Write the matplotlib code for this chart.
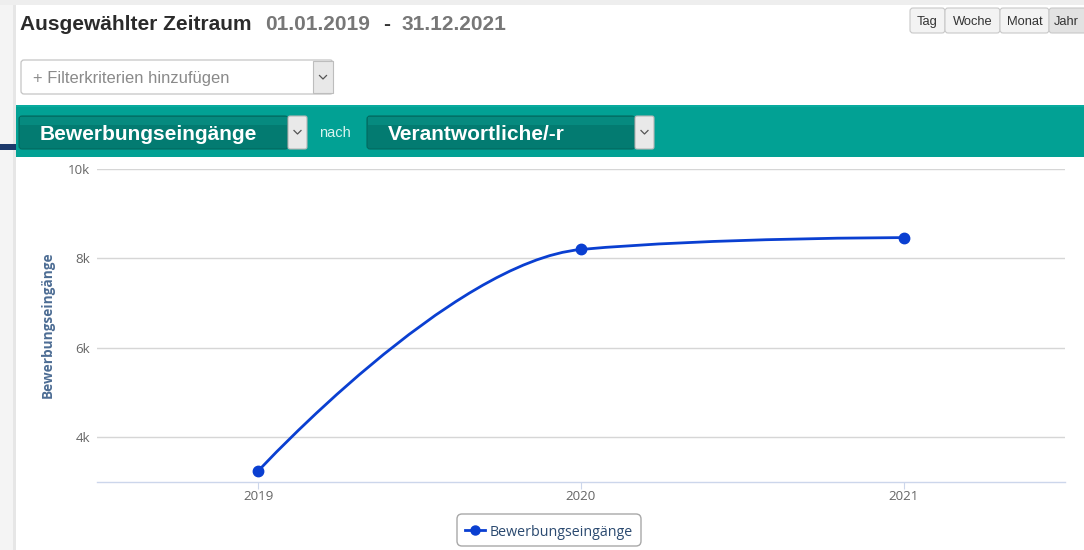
import matplotlib
matplotlib.use("Agg")
import matplotlib.pyplot as plt
from matplotlib.patches import Rectangle, FancyBboxPatch
from matplotlib.path import Path
from matplotlib.patches import PathPatch
from matplotlib.lines import Line2D

# data
years = [2019, 2020, 2021]
eingaenge = [3250, 8200, 8465]
y_ticks = [4000, 6000, 8000, 10000]
y_tick_labels = ["4k", "6k", "8k", "10k"]
series_name = "Bewerbungseingänge"
zeitraum_von = "01.01.2019"
zeitraum_bis = "31.12.2021"
range_buttons = ["Tag", "Woche", "Monat", "Jahr"]

W, H = 1084, 550
fig = plt.figure(figsize=(W / 100, H / 100), dpi=100)
fig.patch.set_facecolor("white")

# background axes in pixel coordinates for the UI parts
bg = fig.add_axes([0, 0, 1, 1])
bg.set_xlim(0, W)
bg.set_ylim(H, 0)
bg.axis("off")

UI = "Liberation Sans"
CH = "Open Sans"


def box(x, y, w, h, fc, ec="none", lw=0, r=0, z=1):
    if r:
        p = FancyBboxPatch((x, y), w, h, boxstyle="round,pad=0,rounding_size=%g" % r,
                           fc=fc, ec=ec, lw=lw, zorder=z)
    else:
        p = Rectangle((x, y), w, h, fc=fc, ec=ec, lw=lw, zorder=z)
    bg.add_patch(p)


def chevron(cx, cy, color="#555555"):
    bg.plot([cx - 3.5, cx, cx + 3.5], [cy - 1.5, cy + 2, cy - 1.5], color=color, lw=0.9, zorder=5)


# page frame
box(0, 0, 14, H, "#f4f4f4")
box(13, 0, 3, H, "#e6e6e6")
box(0, 0, W, 5, "#eeeeee")
box(0, 144, 16, 6, "#1c3a6b", z=2)

# header
hy = 22.5
bg.text(20, hy, "Ausgewählter Zeitraum", fontfamily=UI, fontweight="bold", fontsize=15,
        color="#2b2b2b", va="center_baseline", ha="left")
bg.text(265, hy, zeitraum_von, fontfamily=UI, fontweight="bold", fontsize=15,
        color="#777777", va="center_baseline", ha="left")
bg.text(383, hy, "-", fontfamily=UI, fontweight="bold", fontsize=15,
        color="#333333", va="center_baseline", ha="left")
bg.text(402, hy, zeitraum_bis, fontfamily=UI, fontweight="bold", fontsize=15,
        color="#777777", va="center_baseline", ha="left")

# range buttons
bx = [910, 945, 1000, 1049, 1090]
for i, lab in enumerate(range_buttons):
    fc = "#e2e2e2" if lab == "Jahr" else "#f3f3f3"
    box(bx[i], 8, bx[i + 1] - bx[i], 25, fc, ec="#c8c8c8", lw=0.8, r=3, z=2)
    bg.text((bx[i] + min(bx[i + 1], W + 6)) / 2 - (3 if lab == "Jahr" else 0), 20.5, lab,
            fontfamily=UI, fontsize=9.3, color="#333333", ha="center", va="center_baseline", zorder=3)

# filter dropdown
box(21, 60, 312, 34, "white", ec="#c4c4c4", lw=0.9, r=3, z=2)
box(313, 61, 20, 32, "#e8e8e8", ec="#bdbdbd", lw=0.8, z=3)
chevron(323, 77)
bg.text(33, 77.5, "+ Filterkriterien hinzufügen", fontfamily=UI, fontsize=11.9,
        color="#8a8a8a", va="center_baseline", ha="left", zorder=3)

# teal band
box(16, 105, W - 16, 52, "#02a194", z=1)
box(16, 105, W - 16, 2, "#08ab9e", z=1)

# dark dropdowns
for x0, w, label in [(19, 269, series_name), (367, 268, "Verantwortliche/-r")]:
    box(x0, 116, w, 33, "#037b71", ec="#02695f", lw=0.8, r=3, z=2)
    box(x0 + 1, 117, w - 2, 8, "#068a7f", z=2)
    box(x0 + w, 116, 19, 33, "#e9e9e9", ec="#b5b5b5", lw=0.8, r=2, z=3)
    chevron(x0 + w + 9.5, 132)
    bg.text(x0 + 21, 133, label, fontfamily=UI, fontweight="bold", fontsize=15,
            color="white", va="center_baseline", ha="left", zorder=4)
bg.text(319, 131.5, "nach", fontfamily=UI, fontsize=10.5, color="#d9f3ef",
        va="center_baseline", ha="left", zorder=3)

# chart axes
top, bottom, left, right = 169, 482, 97, 1065
ax = fig.add_axes([left / W, 1 - bottom / H, (right - left) / W, (bottom - top) / H])
ax.set_facecolor("none")
ax.set_xlim(2018.5, 2021.5)
ax.set_ylim(3000, 10000)
for s in ["top", "left", "right"]:
    ax.spines[s].set_visible(False)
ax.spines["bottom"].set_color("#ccd6eb")
ax.spines["bottom"].set_linewidth(1)
ax.set_yticks(y_ticks)
ax.set_yticklabels(y_tick_labels)
ax.set_xticks(years)
ax.set_xticklabels([str(y) for y in years])
ax.tick_params(axis="y", length=0, pad=5, labelsize=9.6, labelcolor="#666666")
ax.tick_params(axis="x", length=5, color="#ccd6eb", pad=1, labelsize=9.6, labelcolor="#666666")
for lab in ax.get_xticklabels() + ax.get_yticklabels():
    lab.set_fontfamily(CH)
for v in y_ticks:
    ax.axhline(v, color="#d6d6d6", lw=1, zorder=1)
bg.text(48, 325, series_name, fontfamily=CH, fontweight="bold", fontsize=9.8,
        color="#4d6d94", rotation=90, ha="center", va="center")

# spline like the web chart (smoothing 1.5)
sm, den = 1.5, 2.5
n = len(years)
lc = [None] * n
rc = [None] * n
for i in range(1, n - 1):
    x, y = years[i], eingaenge[i]
    px_, py_ = years[i - 1], eingaenge[i - 1]
    nx_, ny_ = years[i + 1], eingaenge[i + 1]
    lx, ly = (sm * x + px_) / den, (sm * y + py_) / den
    rx, ry = (sm * x + nx_) / den, (sm * y + ny_) / den
    corr = (ry - ly) * (rx - x) / (rx - lx) + y - ry
    ly += corr
    ry += corr
    if ly > py_ and ly > y:
        ly = max(py_, y); ry = 2 * y - ly
    elif ly < py_ and ly < y:
        ly = min(py_, y); ry = 2 * y - ly
    if ry > ny_ and ry > y:
        ry = max(ny_, y); ly = 2 * y - ry
    elif ry < ny_ and ry < y:
        ry = min(ny_, y); ly = 2 * y - ry
    lc[i] = (lx, ly)
    rc[i] = (rx, ry)
verts = [(years[0], eingaenge[0])]
codes = [Path.MOVETO]
for i in range(1, n):
    c1 = rc[i - 1] or (years[i - 1], eingaenge[i - 1])
    c2 = lc[i] or (years[i], eingaenge[i])
    verts += [c1, c2, (years[i], eingaenge[i])]
    codes += [Path.CURVE4] * 3
line_col = "#0a3fd1"
ax.add_patch(PathPatch(Path(verts, codes), fc="none", ec=line_col, lw=2, zorder=3))
ax.plot(years, eingaenge, "o", color=line_col, ms=7.5, zorder=4, clip_on=False)

# legend
box(457, 514, 184, 32, "white", ec="#a8a8a8", lw=1, r=5, z=2)
bg.add_line(Line2D([465, 485], [530, 530], color=line_col, lw=2, zorder=3))
bg.plot([475], [530], "o", color=line_col, ms=6.5, zorder=4)
bg.text(490, 530, series_name, fontfamily=CH, fontsize=10.3, color="#2b4a70",
        va="center_baseline", ha="left", zorder=3)

fig.savefig("out.png", dpi=100, facecolor="white")
